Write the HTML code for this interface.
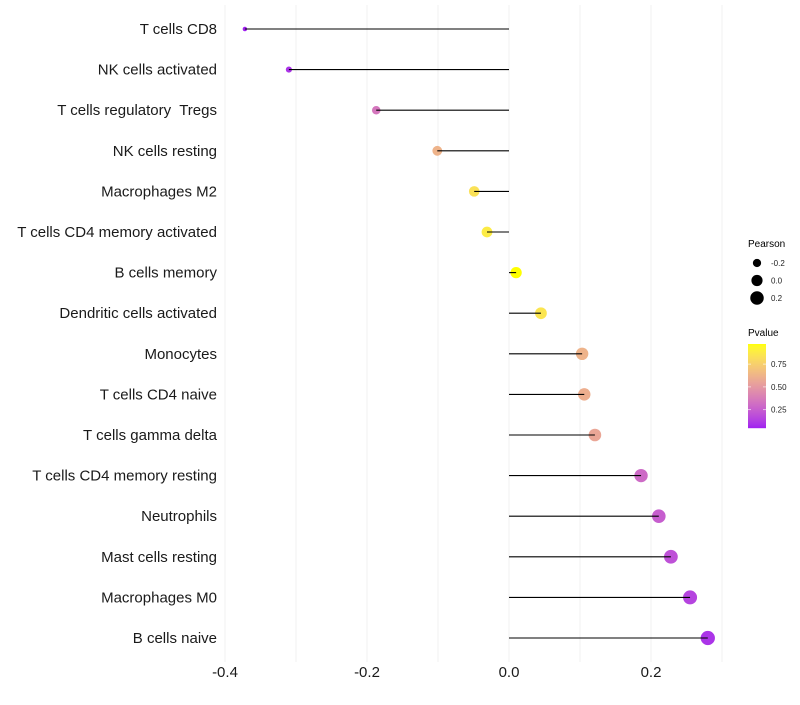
<!DOCTYPE html>
<html><head><meta charset="utf-8"><style>
body{margin:0;background:#fff;}
svg text{font-family:"Liberation Sans",Arial,sans-serif;white-space:pre;}
</style></head><body>
<svg id="chart" width="800" height="700"></svg>
<script>
const categories=["T cells CD8","NK cells activated","T cells regulatory  Tregs","NK cells resting","Macrophages M2","T cells CD4 memory activated","B cells memory","Dendritic cells activated","Monocytes","T cells CD4 naive","T cells gamma delta","T cells CD4 memory resting","Neutrophils","Mast cells resting","Macrophages M0","B cells naive"];
const pearson=[-0.372,-0.310,-0.187,-0.101,-0.049,-0.031,0.010,0.045,0.103,0.106,0.121,0.186,0.211,0.228,0.255,0.280];
const pvalues=[0.05,0.10,0.35,0.62,0.83,0.88,0.97,0.85,0.62,0.60,0.56,0.30,0.25,0.20,0.15,0.10];
const xTicks=[-0.4,-0.2,0.0,0.2];
const xTickLabels=["-0.4","-0.2","0.0","0.2"];
const gridVals=[-0.4,-0.3,-0.2,-0.1,0.0,0.1,0.2,0.3];
const sizeLegendVals=[-0.2,0.0,0.2];
const colorLegendTicks=[0.25,0.5,0.75];
const colorLegendLabels=["0.25","0.50","0.75"];

const NS="http://www.w3.org/2000/svg";
const svg=document.getElementById('chart');
function mk(tag,attrs,parent){const e=document.createElementNS(NS,tag);for(const k in attrs)e.setAttribute(k,attrs[k]);(parent||svg).appendChild(e);return e;}
const x=v=>509+v*710;
const y=i=>29+i*(638-29)/(categories.length-1);
const pmin=Math.min(...pvalues),pmax=Math.max(...pvalues);
const rmin=Math.min(...pearson),rmax=Math.max(...pearson);
const rad=v=>Math.sqrt(5+46*(v-rmin)/(rmax-rmin));
function toLin(c){c/=255;return c<=0.04045?c/12.92:Math.pow((c+0.055)/1.055,2.4);}
function fromLin(c){c=c<=0.0031308?12.92*c:1.055*Math.pow(c,1/2.4)-0.055;return Math.max(0,Math.min(255,Math.round(c*255)));}
function rgb2lab(r,g,b){r=toLin(r);g=toLin(g);b=toLin(b);
let X=(0.4124*r+0.3576*g+0.1805*b)/0.95047,Y=0.2126*r+0.7152*g+0.0722*b,Z=(0.0193*r+0.1192*g+0.9505*b)/1.08883;
const f=t=>t>0.008856?Math.cbrt(t):7.787*t+16/116;X=f(X);Y=f(Y);Z=f(Z);return[116*Y-16,500*(X-Y),200*(Y-Z)];}
function lab2rgb(L,a,b){let Y=(L+16)/116,X=a/500+Y,Z=Y-b/200;const fi=t=>t*t*t>0.008856?t*t*t:(t-16/116)/7.787;
X=fi(X)*0.95047;Y=fi(Y);Z=fi(Z)*1.08883;
const r=3.2406*X-1.5372*Y-0.4986*Z,g=-0.9689*X+1.8758*Y+0.0415*Z,bb=0.0557*X-0.2040*Y+1.0570*Z;
return`rgb(${fromLin(r)},${fromLin(g)},${fromLin(bb)})`;}
const lo=rgb2lab(160,32,240),hi=rgb2lab(255,255,0);
const col=p=>{const t=Math.max(0,Math.min(1,(p-pmin)/(pmax-pmin)));return lab2rgb(lo[0]+(hi[0]-lo[0])*t,lo[1]+(hi[1]-lo[1])*t,lo[2]+(hi[2]-lo[2])*t);};

gridVals.forEach(v=>{const l=mk('line',{x1:x(v),x2:x(v),y1:5,y2:662,stroke:'#f0f0f0','stroke-width':1});

});
categories.forEach((c,i)=>{
 const cy=y(i);
 const t=mk('text',{x:217,y:cy+5,'text-anchor':'end','font-size':15,fill:'#1a1a1a'});t.textContent=c;
 
 
 const pt=mk('circle',{cx:x(pearson[i]),cy:cy,r:rad(pearson[i]),fill:col(pvalues[i])});
 
 
 const ln=mk('line',{x1:x(0),x2:x(pearson[i]),y1:cy,y2:cy,stroke:'#000','stroke-width':1.1});
 
 
});
xTicks.forEach((v,i)=>{const t=mk('text',{x:x(v),y:677,'text-anchor':'middle','font-size':15,fill:'#1a1a1a'});t.textContent=xTickLabels[i];
 
 });
const lt=mk('text',{x:748,y:247,'font-size':10,fill:'#000'});lt.textContent='Pearson';


sizeLegendVals.forEach((v,i)=>{const cy=263+i*17.5;
 const c=mk('circle',{cx:757,cy:cy,r:rad(v),fill:'#000'});
 
 
 const t=mk('text',{x:771,y:cy+3,'font-size':8,fill:'#222'});t.textContent=v.toFixed(1);
 
 });
const ct=mk('text',{x:748,y:336,'font-size':10,fill:'#000'});ct.textContent='Pvalue';


const barTop=344,barBot=428;
const py=p=>barBot-(p-pmin)/(pmax-pmin)*(barBot-barTop);
for(let k=0;k<84;k++){const p=pmax-(k+0.5)/84*(pmax-pmin);
 const r=mk('rect',{x:748,y:barTop+k,width:18,height:1.2,fill:col(p)});
 
 }
colorLegendTicks.forEach((p,i)=>{const yy=py(p);
 mk('line',{x1:748,x2:751,y1:yy,y2:yy,stroke:'#fff','stroke-width':0.6});
 mk('line',{x1:763,x2:766,y1:yy,y2:yy,stroke:'#fff','stroke-width':0.6});
 const t=mk('text',{x:771,y:yy+3,'font-size':8,fill:'#222'});t.textContent=colorLegendLabels[i];
 
 });
</script>
</body></html>
